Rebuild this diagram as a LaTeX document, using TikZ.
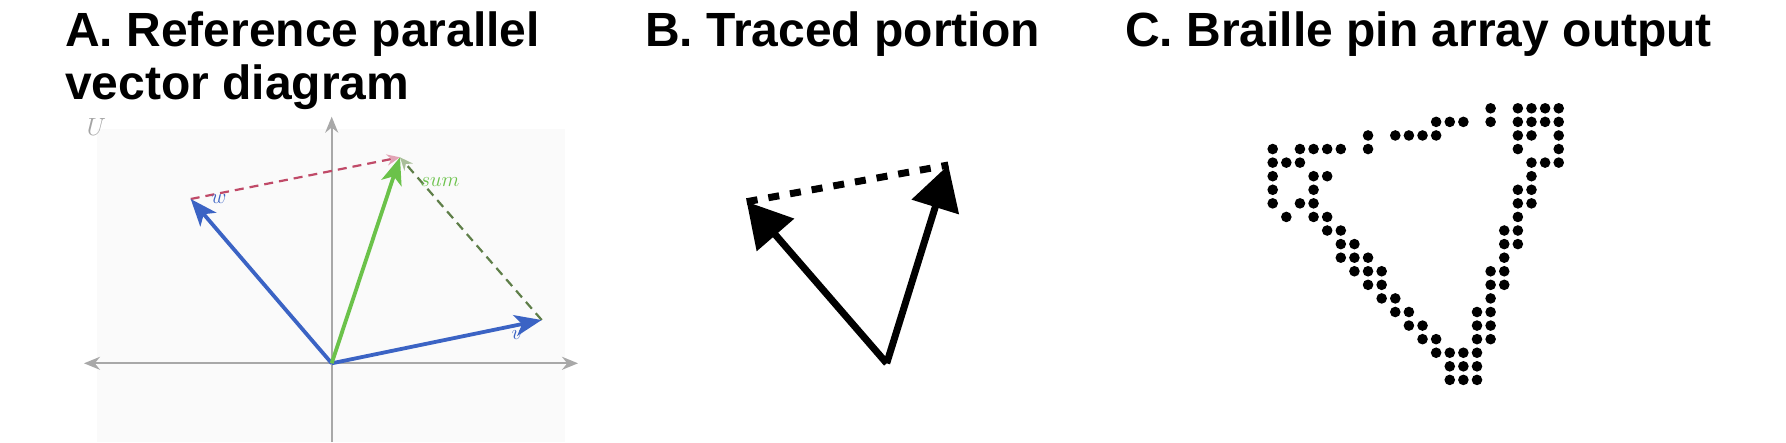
\documentclass[tikz,border=0pt]{standalone}
\usepackage{fontspec}
\usepackage{xcolor}
\usetikzlibrary{arrows.meta}
\newfontfamily\titlefont{Liberation Sans}
\definecolor{vecblue}{HTML}{3B63C4}
\definecolor{sumgreen}{HTML}{6BC24A}
\definecolor{dashred}{HTML}{C04A68}
\definecolor{tippink}{HTML}{E2A3B5}
\definecolor{dashgreen}{HTML}{5E7E48}
\definecolor{tipgreen}{HTML}{A9BE99}
\definecolor{axisgray}{HTML}{A8A8A8}
\definecolor{bggray}{HTML}{FAFAFA}
\definecolor{ugray}{HTML}{A4A4A4}

\begin{document}
\begin{tikzpicture}[x=1pt, y=-1pt,
      title/.style={anchor=base west, inner sep=0pt, align=left,
                    font=\titlefont\bfseries\fontsize{48}{53}\selectfont},
      axis/.style={draw=axisgray, line width=2pt},
      vec/.style={line width=3.8pt, -{Stealth[length=27pt,width=21pt,inset=7pt]}},
      guide/.style={line width=2.2pt, dash pattern=on 9pt off 6pt},
      lbl/.style={inner sep=0pt, font=\fontsize{20.74}{24}\selectfont},
      traced/.style={line width=7pt, -{Triangle[length=44pt,width=48pt]}},
      tracedash/.style={line width=7pt, dash pattern=on 11pt off 11pt},
      pin/.style={fill=black},
    ]
      \useasboundingbox (0,0) rectangle (1786,442);

      % titles (base of the A title is its second line)
      \node[title] (titleA) at (65,99) {A. Reference parallel\\vector diagram};
      \node[title] (titleB) at (645,46.5) {B. Traced portion};
      \node[title] (titleC) at (1125,46.5) {C. Braille pin array output};

      % A: vector diagram
      \fill[bggray] (96.7,129.3) rectangle (565,442);
      \node[lbl, text=ugray, font=\fontsize{24.88}{28}\selectfont] (ulab) at (96.5,127) {$U$};
      \coordinate (xl) at (84,363.3);
      \coordinate (xr) at (578,363.3);
      \coordinate (yb) at (331.7,442);
      \coordinate (yt) at (331.7,116.7);
      \draw[axis, {Stealth[length=16pt,width=13pt]}-{Stealth[length=16pt,width=13pt]}] (xl) -- (xr);
      \draw[axis, -{Stealth[length=16pt,width=13pt]}] (yb) -- (yt);

      \coordinate (O) at (331.7,363.3);
      \coordinate (w) at (190.7,199);
      \coordinate (v) at (541.7,320);
      \coordinate (sum) at (400,157.3);
      \draw[guide, dashred, -{Stealth[length=13pt,width=11pt,color=tippink]}] (w) -- (sum);
      \draw[guide, dashgreen, -{Stealth[length=13pt,width=11pt,color=tipgreen]}] (v) -- (sum);
      \draw[vec, vecblue] (O) -- (w);
      \draw[vec, vecblue] (O) -- (v);
      \draw[vec, sumgreen] (O) -- (sum);
      \node[lbl, text=vecblue] (wlab) at (219,199) {$w$};
      \node[lbl, text=vecblue] (vlab) at (517,335) {$v$};
      \node[lbl, text=sumgreen] (sumlab) at (440,182) {$sum$};

      % B: traced portion
      \coordinate (Bo) at (886.7,363.3);
      \coordinate (Bl) at (746.7,201.7);
      \coordinate (Br) at (948.3,165);
      \draw[tracedash] (Bl) -- (Br);
      \draw[traced] (Bo) -- (Bl);
      \draw[traced] (Bo) -- (Br);

      % C: braille pins, row/columns
      \foreach \r/\cols in {0/{16,18,19,20,21}, 1/{12,13,14,16,18,19,20,21},
          2/{7,9,10,11,12,18,19,21}, 3/{0,2,3,4,5,7,18,21}, 4/{0,1,2,19,20,21},
          5/{0,3,4,19}, 6/{0,3,18,19}, 7/{0,2,3,18,19}, 8/{1,3,4,18},
          9/{4,5,17,18}, 10/{5,6,17,18}, 11/{5,6,7,17}, 12/{6,7,8,16,17},
          13/{7,8,16,17}, 14/{8,9,16}, 15/{9,10,15,16}, 16/{10,11,15,16},
          17/{11,12,15,16}, 18/{12,13,14,15}, 19/{13,14,15}, 20/{13,14,15}}
        {\foreach \c in \cols
          {\fill[pin] ({1272.7+13.62*\c},{108.3+13.58*\r}) circle[radius=5.3pt];}}
    \end{tikzpicture}
\end{document}
